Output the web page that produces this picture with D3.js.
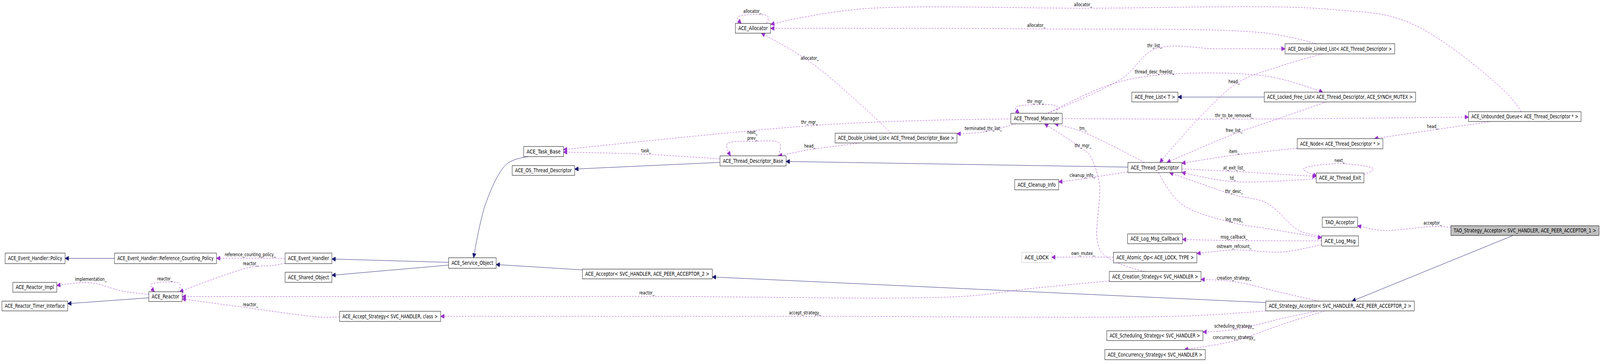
<!DOCTYPE html>
<html><head><meta charset="utf-8">
<script src="https://cdn.jsdelivr.net/npm/d3@7"></script>
<style>html,body{margin:0;padding:0;background:#fff;overflow:hidden;width:100%;height:100%}svg{display:block}</style></head>
<body><svg id="c" viewBox="0 0 4989 932" preserveAspectRatio="none" style="width:100vw;height:100vh"></svg>
<script>
// node ids and labels
const nodeIds = ["policy","rcp","eh","shared","rimpl","reactor","rtimer","accstrat","alloc","taskbase","ostd","tdb","svcobj","acceptor","tm","dlltdb","fl","td","cleanup","logcb","lock","atomic","creation","sched","conc","dlltd","lfl","uq","node","ate","taoacc","taosa","logmsg","sa"];
const nodeLabels = ["ACE_Event_Handler::Policy","ACE_Event_Handler::Reference_Counting_Policy","ACE_Event_Handler","ACE_Shared_Object","ACE_Reactor_Impl","ACE_Reactor","ACE_Reactor_Timer_Interface","ACE_Accept_Strategy< SVC_HANDLER, class >","ACE_Allocator","ACE_Task_Base","ACE_OS_Thread_Descriptor","ACE_Thread_Descriptor_Base","ACE_Service_Object","ACE_Acceptor< SVC_HANDLER, ACE_PEER_ACCEPTOR_2 >","ACE_Thread_Manager","ACE_Double_Linked_List< ACE_Thread_Descriptor_Base >","ACE_Free_List< T >","ACE_Thread_Descriptor","ACE_Cleanup_Info","ACE_Log_Msg_Callback","ACE_LOCK","ACE_Atomic_Op< ACE_LOCK, TYPE >","ACE_Creation_Strategy< SVC_HANDLER >","ACE_Scheduling_Strategy< SVC_HANDLER >","ACE_Concurrency_Strategy< SVC_HANDLER >","ACE_Double_Linked_List< ACE_Thread_Descriptor >","ACE_Locked_Free_List< ACE_Thread_Descriptor, ACE_SYNCH_MUTEX >","ACE_Unbounded_Queue< ACE_Thread_Descriptor * >","ACE_Node< ACE_Thread_Descriptor * >","ACE_At_Thread_Exit","TAO_Acceptor","TAO_Strategy_Acceptor< SVC_HANDLER, ACE_PEER_ACCEPTOR_1 >","ACE_Log_Msg","ACE_Strategy_Acceptor< SVC_HANDLER, ACE_PEER_ACCEPTOR_2 >"];
// layout boxes [x0,y0,x1,y1]
const nodeLayout = [[16,648,203,675],[357,648,675,675],[889,648,1035,675],[889,697,1035,723],[40,723,177,748],[464,747,568,772],[6,771,211,796],[1059,797,1374,823],[2293,60,2403,85],[1633,375,1757,401],[1597,424,1792,449],[2245,399,2451,425],[1399,660,1547,687],[1816,689,2221,714],[3152,290,3312,317],[2604,341,2984,366],[3529,236,3673,261],[3517,416,3685,442],[3164,460,3301,486],[3516,599,3687,624],[3186,646,3279,672],[3472,646,3732,673],[3459,695,3745,721],[3451,847,3751,872],[3445,895,3758,921],[4007,112,4349,138],[3942,236,4414,261],[4579,286,4930,311],[4045,355,4312,381],[4104,443,4253,468],[4123,556,4233,582],[4524,578,4986,603],[4121,604,4236,630],[3947,771,4410,796]];
// edges: source, target, kind, label, label position, route hints
const edgeSource = ["rcp","svcobj","svcobj","reactor","taskbase","tdb","td","acceptor","sa","lfl","taosa",
 "eh","eh","reactor","creation","accstrat","sa","uq","dlltd","dlltdb","tm","tdb","dlltdb","tm","tm","tm","tm","td","creation","td","dlltd","lfl","node","td","ate","logmsg","td","logmsg","logmsg","atomic","uq","taosa","sa","sa","sa"];
const edgeTarget = ["policy","eh","shared","rtimer","svcobj","ostd","tdb","svcobj","acceptor","fl","sa",
 "rcp","reactor","rimpl","reactor","reactor","accstrat","alloc","alloc","alloc","taskbase","taskbase","tdb","dlltdb","dlltd","lfl","uq","tm","tm","cleanup","td","td","td","ate","td","td","logmsg","logcb","atomic","lock","node","taoacc","creation","sched","conc"];
const edgeLabels = ["","","","","","","","","","","",
 "reference_counting_policy_","reactor_","implementation_","reactor_","reactor_","accept_strategy_","allocator_","allocator_","allocator_","thr_mgr_","task_","head_","terminated_thr_list_","thr_list_","thread_desc_freelist_","thr_to_be_removed_","tm_","thr_mgr_","cleanup_info_","head_","free_list_","item_","at_exit_list_","td_","thr_desc_","log_msg_","msg_callback_","ostream_refcount_","own_mutex_","head_","acceptor_","creation_strategy_","scheduling_strategy_","concurrency_strategy_"];
const edgeLabelPos = [null,null,null,null,null,null,null,null,null,null,null,
 [780,652],[781,675],[283,715],[2017,750],[781,780],[2510,801],[3377,12],[3231,65],[2525,149],[2524,313],[2015,386],[2525,374],[3066,329],[3600,117],[3600,184],[3848,296],[3377,329],[3377,373],[3375,449],[3848,209],[3848,334],[3848,388],[3848,430],[3844,456],[3848,490],[3848,562],[3848,607],[3848,631],[3377,649],[4467,324],[4467,571],[3848,712],[3848,835],[3848,864]];
const edgeHints = [[],[],[],[],[[1580,420],[1515,520]],[],[],[],[],[],[],
 [],[[850,680]],[[380,745]],[[3200,740],[3000,759]],[[1000,812]],[[3700,809]],[[4700,240],[4400,60],[4150,24],[2700,22],[2500,45]],[[3950,85]],[[2700,280]],[[2900,308]],[],[[2600,375]],[],[[3500,200],[3800,125]],[[3450,220],[3950,195]],[],[],[[3430,640],[3428,470],[3400,400]],[],[[3990,170]],[[4000,300]],[],[],[],[[4050,590],[3950,520]],[[3680,520],[3950,585]],[],[[4000,645]],[],[],[[4310,590]],[[4000,750]],[[4000,815]],[[4000,830]]];
const selfLoops = [["reactor","reactor_",[514,714],"r"],["alloc","allocator_",[2346,29],"r"],["tdb","next_\nprev_",[2346,354],"r"],["tm","thr_mgr_",[3229,260],"r"],["ate","next_",[4177,411],"e"]];

const NAVY="#191970", PURPLE="#9a32cd";
const FONT="'Liberation Sans Narrow','DejaVu Sans Condensed',sans-serif";
const svg=d3.select("#c");
const nodes={};
nodeIds.forEach((id,i)=>{const b=nodeLayout[i];nodes[id]={id,label:nodeLabels[i],x0:b[0],y0:b[1],x1:b[2],y1:b[3],cx:(b[0]+b[2])/2,cy:(b[1]+b[3])/2};});
const defs=svg.append("defs");
[["inh",NAVY],["use",PURPLE]].forEach(([id,c])=>{
 defs.append("marker").attr("id",id).attr("viewBox","0 0 10 10").attr("refX",10).attr("refY",5)
 .attr("markerWidth",13).attr("markerHeight",11).attr("markerUnits","userSpaceOnUse").attr("orient","auto")
 .append("path").attr("d","M0,0L10,5L0,10z").attr("fill",c).attr("stroke",c);});
function anchor(n,p){const dx=p[0]-n.cx,dy=p[1]-n.cy;const hw=(n.x1-n.x0)/2,hh=(n.y1-n.y0)/2;
 const t=Math.min(dx?hw/Math.abs(dx):1e9,dy?hh/Math.abs(dy):1e9);return [n.cx+dx*t,n.cy+dy*t];}
const line=d3.line().curve(d3.curveCatmullRom.alpha(0.5));
const gE=svg.append("g");
edgeSource.forEach((s,i)=>{
 const S=nodes[s],T=nodes[edgeTarget[i]];const lp=edgeLabelPos[i];
 let mid=[...edgeHints[i]];
 if(lp){mid.push([lp[0],lp[1]+9]);mid.sort((a,b)=>{const d=T.cx-S.cx;return Math.abs(d)>Math.abs(T.cy-S.cy)?(d>0?a[0]-b[0]:b[0]-a[0]):((T.cy-S.cy)>0?a[1]-b[1]:b[1]-a[1]);});}
 const first=mid.length?mid[0]:[T.cx,T.cy],last=mid.length?mid[mid.length-1]:[S.cx,S.cy];
 const pts=[anchor(S,first),...mid,anchor(T,last)];
 const inh=!edgeLabels[i];
 gE.append("path").attr("d",line(pts)).attr("fill","none").attr("stroke",inh?NAVY:PURPLE).attr("stroke-width",1)
  .attr("stroke-dasharray",inh?null:"5,4").attr("marker-end",`url(#${inh?"inh":"use"})`);
 if(lp) gE.append("text").attr("x",lp[0]).attr("y",lp[1]).attr("text-anchor","middle").attr("dominant-baseline","middle")
  .attr("font-family",FONT).attr("font-size",13).text(edgeLabels[i]);
});
selfLoops.forEach(([id,lab,lp,mode])=>{
 const n=nodes[id];let pts;
 if(mode==="r"){const w=n.x1-n.x0;const a=n.x0+w*0.15,b=n.x1-w*0.12;
  pts=[[b,n.y0],[b+6,lp[1]+14],[lp[0],lp[1]+8],[a-10,lp[1]+16],[a+2,n.y0]];}
 else{pts=[[n.x1,n.y0+4],[n.x1+30,lp[1]+22],[lp[0],lp[1]+8],[n.x0-40,lp[1]+22],[n.x0+2,n.y0+8]];}
 gE.append("path").attr("d",line(pts)).attr("fill","none").attr("stroke",PURPLE).attr("stroke-dasharray","5,4").attr("marker-end","url(#use)");
 lab.split("\n").forEach((t,k,arr)=>gE.append("text").attr("x",lp[0]).attr("y",lp[1]-(arr.length-1-k)*15).attr("text-anchor","middle")
  .attr("dominant-baseline","middle").attr("font-family",FONT).attr("font-size",13).text(t));
});
const gN=svg.append("g");
Object.values(nodes).forEach(n=>{
 gN.append("rect").attr("x",n.x0).attr("y",n.y0).attr("width",n.x1-n.x0).attr("height",n.y1-n.y0)
  .attr("fill",n.id==="taosa"?"#bfbfbf":"#fff").attr("stroke",n.id==="lock"?"#bfbfbf":"#000").attr("stroke-width",1);
 gN.append("text").attr("x",n.cx).attr("y",n.cy+1).attr("text-anchor","middle").attr("dominant-baseline","middle")
  .attr("font-family",FONT).attr("font-size",14).attr("textLength",n.x1-n.x0-18).attr("lengthAdjust","spacingAndGlyphs").text(n.label);
});
</script></body></html>
